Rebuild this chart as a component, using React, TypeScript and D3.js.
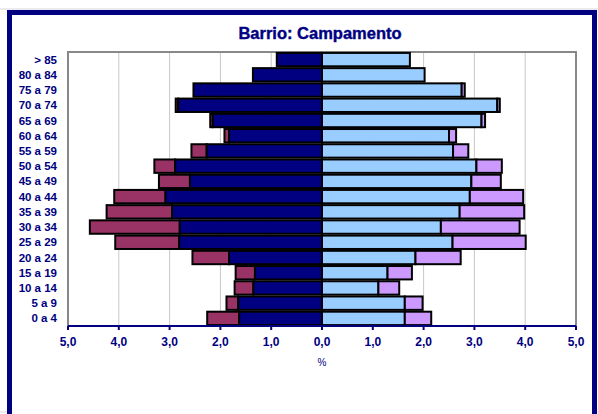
import React from 'react';
import * as d3 from 'd3';

// age groups, bottom to top
const ages = ['0 a 4', '5 a 9', '10 a 14', '15 a 19', '20 a 24', '25 a 29', '30 a 34', '35 a 39', '40 a 44',
  '45 a 49', '50 a 54', '55 a 59', '60 a 64', '65 a 69', '70 a 74', '75 a 79', '80 a 84', '> 85'];

// males (left): inner navy part and extra maroon part, in %
const menInner = [1.63, 1.65, 1.35, 1.32, 1.83, 2.81, 2.8, 2.95, 3.08, 2.6, 2.89, 2.27, 1.83, 2.15, 2.83, 2.53, 1.36, 0.89];
const menExtra = [0.63, 0.23, 0.37, 0.38, 0.72, 1.26, 1.77, 1.29, 1.01, 0.61, 0.41, 0.3, 0.09, 0.05, 0.05, 0, 0, 0];

// females (right): inner light blue part and extra lavender part, in %
const womenInner = [1.63, 1.63, 1.11, 1.29, 1.84, 2.57, 2.34, 2.71, 2.91, 2.94, 3.04, 2.58, 2.5, 3.14, 3.45, 2.75, 2.02, 1.73];
const womenExtra = [0.52, 0.35, 0.41, 0.48, 0.89, 1.44, 1.55, 1.27, 1.05, 0.58, 0.5, 0.3, 0.14, 0.07, 0.05, 0.06, 0, 0];

const ticks = [-5, -4, -3, -2, -1, 0, 1, 2, 3, 4, 5];

const NAVY = '#000080';
const font = '"Liberation Sans", Arial, sans-serif';

export default function App() {
  const width = 598;
  const height = 414;
  const plot = { left: 68, right: 576, top: 52, bottom: 326 };

  const x = d3.scaleLinear().domain([-5, 5]).range([plot.left, plot.right]);
  const y = d3.scaleBand<string>()
    .domain([...ages].reverse())
    .range([plot.top, plot.bottom])
    .paddingInner(0.12)
    .paddingOuter(0.06);
  const fmt = (v: number) => Math.abs(v).toFixed(1).replace('.', ',');

  return (
    <svg width={width} height={height} style={{ position: 'absolute', left: 0, top: 0, background: '#fff' }}>
      <line x1={0} x2={width} y1={9} y2={9} stroke="#d8d8e0" />
      <line x1={0} x2={width} y1={412} y2={412} stroke="#d8d8e0" />
      {/* outer frame */}
      <rect x={9.5} y={12.5} width={585} height={430} fill="#fff" stroke={NAVY} strokeWidth={5} />

      <text x={320} y={39} textAnchor="middle" fontFamily={font} fontWeight="bold" fontSize={16.5} fill={NAVY}
        stroke={NAVY} strokeWidth={0.4}>
        Barrio: Campamento
      </text>

      {/* gridlines */}
      {ticks.filter(t => Math.abs(t) !== 5 && t !== 0).map(t => (
        <line key={'g' + t} x1={x(t)} x2={x(t)} y1={plot.top} y2={plot.bottom} stroke="#c8c8c8" strokeWidth={1} />
      ))}
      {/* plot border */}
      <path d={`M${plot.left},${plot.bottom} V${plot.top} H${plot.right} V${plot.bottom}`} fill="none" stroke="#888" strokeWidth={2} />

      {/* bars */}
      {ages.map((a, i) => {
        const y0 = y(a)!;
        const h = y.bandwidth();
        const mi = menInner[i], me = menExtra[i];
        const wi = womenInner[i], we = womenExtra[i];
        return (
          <g key={a} stroke="#000" strokeWidth={2}>
            {me > 0 && <rect x={x(-(mi + me))} y={y0} width={x(-mi) - x(-(mi + me))} height={h} fill="#993366" />}
            <rect x={x(-mi)} y={y0} width={x(0) - x(-mi)} height={h} fill={NAVY} />
            <rect x={x(0)} y={y0} width={x(wi) - x(0)} height={h} fill="#99CCFF" />
            {we > 0 && <rect x={x(wi)} y={y0} width={x(wi + we) - x(wi)} height={h} fill="#CC99FF" />}
          </g>
        );
      })}

      {/* y labels */}
      {ages.map(a => (
        <text key={'l' + a} x={57} y={y(a)! + y.bandwidth() / 2} dy="0.35em" textAnchor="end"
          fontFamily={font} fontWeight="bold" fontSize={11.5} fill={NAVY}>{a}</text>
      ))}

      {/* x axis */}
      <line x1={plot.left} x2={plot.right} y1={plot.bottom} y2={plot.bottom} stroke={NAVY} strokeWidth={2} />
      {ticks.map(t => (
        <g key={'t' + t}>
          <line x1={x(t)} x2={x(t)} y1={plot.bottom} y2={plot.bottom + 4} stroke={NAVY} strokeWidth={2} />
          <text x={x(t)} y={342} dy="0.35em" textAnchor="middle" fontFamily={font} fontWeight="bold"
            fontSize={12} fill={NAVY}>{fmt(t)}</text>
        </g>
      ))}
      <text x={x(0)} y={362} dy="0.35em" textAnchor="middle" fontFamily={font} fontSize={10} fill={NAVY}>%</text>
    </svg>
  );
}
